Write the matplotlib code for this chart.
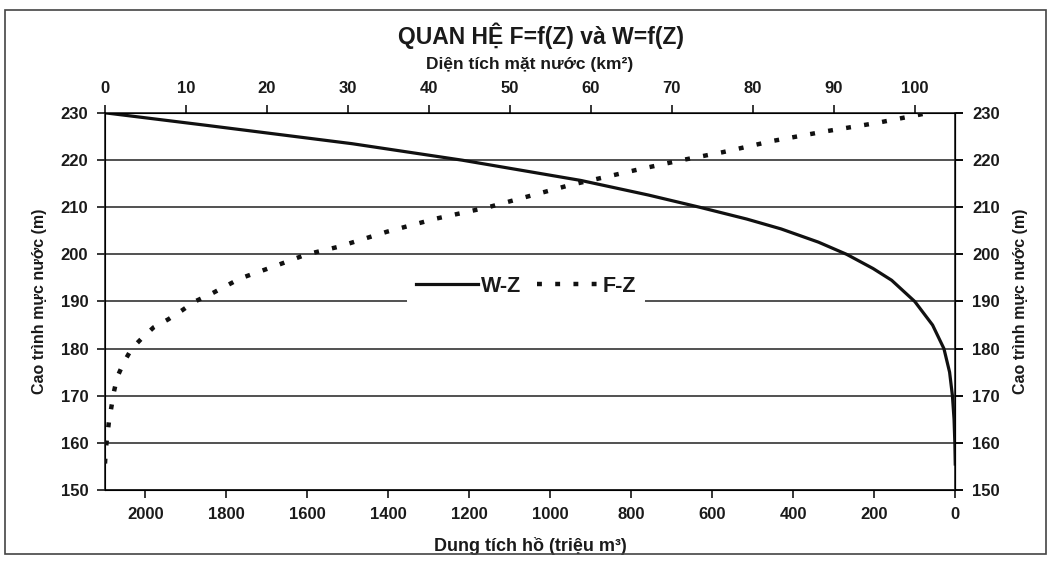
import matplotlib
matplotlib.use("Agg")
import matplotlib.pyplot as plt
from matplotlib.patches import Rectangle

plt.rcParams['font.family'] = ['Liberation Sans', 'DejaVu Sans']
plt.rcParams['font.weight'] = 'bold'
plt.rcParams['axes.labelweight'] = 'bold'

# cao trinh (m) va dung tich ho W (trieu m3)
z_w = [155.5, 160, 165, 170, 175, 180, 185, 190, 194.5, 197, 200,
       202.6, 205.4, 207.5, 210, 212.6, 215.7, 220, 223.5, 227.4, 230]
w_vals = [0, 1, 3, 7, 14, 28, 56, 100, 157, 203, 268,
          338, 430, 515, 631, 758, 925, 1218, 1490, 1850, 2095]

# cao trinh (m) va dien tich mat nuoc F (km2)
z_f = [155.6, 158.6, 161.7, 164.7, 167.7, 170.8, 173.9, 177, 180, 182.1,
       184.5, 186.2, 188.1, 190, 191.7, 194.9, 197.4, 200, 201.6, 204.8,
       207.6, 210, 212.8, 214.7, 218, 220, 221.7, 224.1, 226.1, 227.9, 230]
f_vals = [0, 0.1, 0.3, 0.5, 0.8, 1.1, 1.5, 2.3, 3.3, 4.5,
          6.0, 7.8, 9.5, 11.1, 13.2, 16.7, 20.8, 24.9, 28.8, 34.8,
          40.9, 47.3, 53.3, 57.4, 65.8, 71.2, 76.3, 82.5, 88.9, 95.3, 101.6]

z_ticks = list(range(150, 231, 10))
w_ticks = list(range(0, 2001, 200))
f_ticks = list(range(0, 101, 10))

ink = '#1a1a1a'
tick_size = 12

fig = plt.figure(figsize=(10.51, 5.71), dpi=100)
fig.patch.set_facecolor('white')
fig.patches.append(Rectangle((0.005, 0.03), 0.99, 0.952, transform=fig.transFigure,
                             fill=False, edgecolor='#444444', linewidth=1.2))

ax = fig.add_axes([0.0999, 0.142, 0.809, 0.660])
ax.set_ylim(150, 230)
ax.set_xlim(2100, 0)
ax.set_yticks(z_ticks)
ax.set_xticks(w_ticks)
for z in z_ticks:
    ax.axhline(z, color='#222222', linewidth=1.1, zorder=1)

line_w, = ax.plot(w_vals, z_w, color='#111111', linewidth=2.3, label='W-Z', zorder=3)
ax.set_xlabel('Dung tích hồ (triệu m³)', fontsize=13, labelpad=11, color=ink)
ax.set_ylabel('Cao trình mực nước (m)', fontsize=11.5, labelpad=10, color=ink)
ax.tick_params(axis='both', labelsize=tick_size, length=6, width=1.1,
               direction='out', pad=6, labelcolor=ink)
ax.tick_params(axis='y', right=True)
for s in ax.spines.values():
    s.set_linewidth(1.2)
    s.set_color('#222222')

ax_r = ax.secondary_yaxis('right')
ax_r.set_yticks(z_ticks)
ax_r.tick_params(labelsize=tick_size, length=6, width=1.1, pad=6, labelcolor=ink)
ax_r.set_ylabel('Cao trình mực nước (m)', fontsize=11.5, labelpad=10, color=ink)

ax_top = ax.twiny()
ax_top.set_xlim(0, 105)
ax_top.set_xticks(f_ticks)
ax_top.tick_params(axis='x', labelsize=tick_size, length=6, width=1.1, pad=6,
                   labelcolor=ink)
line_f, = ax_top.plot(f_vals, z_f, color='#111111', linewidth=3.2,
                      linestyle=(0, (1.1, 3.0)), label='F-Z', zorder=3)
ax_top.set_xlabel('Diện tích mặt nước (km²)', fontsize=12.5, labelpad=9, color=ink)

fig.text(0.515, 0.938, 'QUAN HỆ F=f(Z) và W=f(Z)', ha='center', va='center',
         fontsize=16.5, fontweight='bold', color=ink)

leg = ax_top.legend([line_w, line_f], ['W-Z', 'F-Z'], loc='center',
                    bbox_to_anchor=(0.495, 0.54), ncol=2, frameon=True,
                    prop={'weight': 'bold', 'size': 15.5}, handlelength=2.9,
                    columnspacing=0.7, handletextpad=0.15, borderpad=0.4)
leg.get_frame().set_facecolor('white')
leg.get_frame().set_edgecolor('none')
leg.get_frame().set_alpha(1)
for t in leg.get_texts():
    t.set_color(ink)

fig.savefig('out.png', dpi=100)
